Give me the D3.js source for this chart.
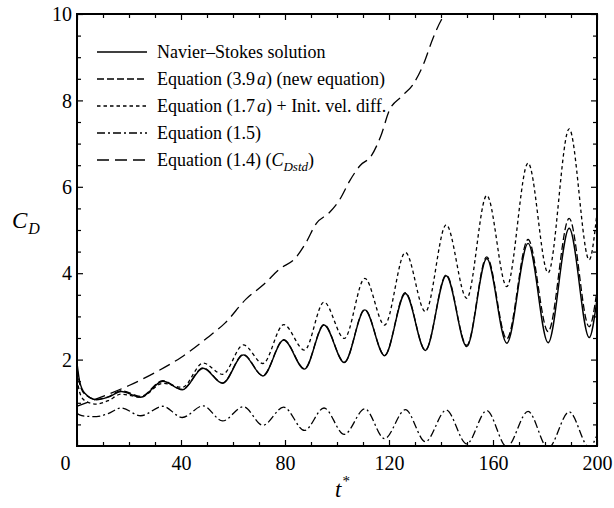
<!DOCTYPE html>
<html>
<head>
<meta charset="utf-8">
<script src="https://cdn.jsdelivr.net/npm/d3@7"></script>
<style>
html,body{margin:0;padding:0;background:#fff;}
svg{display:block;}
svg text{font-family:"Liberation Serif","Times New Roman",Times,"DejaVu Serif","Noto Serif",serif !important;fill:#000;}
</style>
</head>
<body>
<svg id="chart" width="614" height="508"></svg>
<script>
// ---- data ----
const oscT = [0,1,3,7.5,12,17,24.5,33,40.5,48.5,56,64,71.5,79.5,87.5,95,102.8,110.7,118.3,126.3,134,142,149.9,157.6,165.3,173.5,181.2,189.3,197,200];
const nsCD   = [1.92,1.5,1.22,1.07,1.13,1.26,1.13,1.50,1.30,1.80,1.45,2.11,1.62,2.45,1.78,2.80,1.93,3.15,2.09,3.53,2.21,3.94,2.30,4.34,2.38,4.69,2.39,5.04,2.51,3.4];
const eq39aCD= [1.80,1.45,1.20,1.08,1.14,1.28,1.15,1.51,1.31,1.81,1.46,2.12,1.63,2.46,1.79,2.81,1.94,3.16,2.10,3.55,2.22,3.96,2.33,4.38,2.48,4.78,2.65,5.27,2.76,3.6];
const eq17aCD= [1.55,1.25,1.05,0.97,1.05,1.20,1.13,1.45,1.36,1.92,1.66,2.34,1.91,2.81,2.22,3.33,2.49,3.88,2.80,4.48,3.11,5.12,3.42,5.80,3.69,6.55,4.01,7.34,4.31,5.4];
const eq15CD = [0.76,0.72,0.69,0.68,0.75,0.88,0.70,0.92,0.66,0.93,0.58,0.91,0.48,0.90,0.36,0.88,0.27,0.86,0.17,0.84,0.10,0.83,0.05,0.82,-0.02,0.80,-0.05,0.79,-0.03,0.25];
const eq14T  = [0,10,20,30,40,50,57,65,72,78,84,88,92,97,101,105,109,113,117,120,125,129,133,137,140,143];
const eq14CD = [0.92,1.15,1.40,1.70,2.05,2.50,2.85,3.40,3.75,4.10,4.35,4.70,5.15,5.40,5.70,6.15,6.50,6.70,7.20,7.75,8.10,8.35,8.80,9.45,9.85,10.1];
const xMajorTicks = [0,40,80,120,160,200];
const yMajorTicks = [2,4,6,8,10];
const legendLabels = ["Navier–Stokes solution","Equation (3.9a) (new equation)","Equation (1.7a) + Init. vel. diff.","Equation (1.5)","Equation (1.4) (CDstd)"];

// ---- layout ----
const L = 77, R = 597, T = 14, B = 446;
const svg = d3.select("#chart");
const x = d3.scaleLinear().domain([0,200]).range([L,R]);
const y = d3.scaleLinear().domain([0,10]).range([B,T]);

svg.append("defs").append("clipPath").attr("id","clip")
  .append("rect").attr("x",L).attr("y",T).attr("width",R-L).attr("height",B-T);

const styles = [
  {dash:null},
  {dash:"7,3"},
  {dash:"3.5,3"},
  {dash:"8,3,2,3"},
  {dash:"12,6"}
];
const series = [
  {t:oscT, v:nsCD},
  {t:oscT, v:eq39aCD},
  {t:oscT, v:eq17aCD},
  {t:oscT, v:eq15CD},
  {t:eq14T, v:eq14CD}
];
const line = d3.line().x(d=>x(d[0])).y(d=>y(d[1])).curve(d3.curveMonotoneX);
const gLines = svg.append("g").attr("clip-path","url(#clip)");
series.forEach((s,i)=>{
  gLines.append("path")
    .datum(s.t.map((t,j)=>[t,s.v[j]]))
    .attr("d",line)
    .attr("fill","none").attr("stroke","#000")
    .attr("stroke-width", i===0?1.4:1.3)
    .attr("stroke-dasharray", styles[i].dash);
});

// ---- axes ----
const xMinor = d3.range(0,201,10).filter(v=>!xMajorTicks.includes(v));
const yMinor = d3.range(0.5,10,0.5).filter(v=>!yMajorTicks.includes(v));
function addAxis(axisFn, scale, tr, vals, size, labels){
  const a = axisFn(scale).tickValues(vals).tickSizeInner(-size).tickSizeOuter(0);
  if(!labels) a.tickFormat("");
  const g = svg.append("g").attr("transform",tr).call(a).attr("font-family",null);
  g.select(".domain").remove();
  g.selectAll(".tick line").attr("stroke","#000").attr("stroke-width",1.2);
  return g;
}
// bottom
const gxb = addAxis(d3.axisBottom, x, `translate(0,${B})`, xMajorTicks, 6, true);
addAxis(d3.axisBottom, x, `translate(0,${B})`, xMinor, 4, false);
gxb.selectAll(".tick text").attr("dy",null)
  .attr("y",24).attr("font-size",20)
  .attr("x",d=>d===0?-12:0);
// top
addAxis(d3.axisTop, x, `translate(0,${T})`, xMajorTicks, 6, false);
addAxis(d3.axisTop, x, `translate(0,${T})`, xMinor, 4, false);
// left
const gyl = addAxis(d3.axisLeft, y, `translate(${L},0)`, yMajorTicks, 6, true);
addAxis(d3.axisLeft, y, `translate(${L},0)`, yMinor, 4, false);
gyl.selectAll(".tick text").attr("x",-5).attr("dy","0.33em").attr("font-size",20);
// right
addAxis(d3.axisRight, y, `translate(${R},0)`, yMajorTicks, 6, false);
addAxis(d3.axisRight, y, `translate(${R},0)`, yMinor, 4, false);

// frame
svg.append("rect").attr("x",L).attr("y",T).attr("width",R-L).attr("height",B-T)
  .attr("fill","none").attr("stroke","#000").attr("stroke-width",2);

// ---- axis titles ----
const yt = svg.append("text").attr("x",12).attr("y",228).attr("font-size",23).attr("font-style","italic");
yt.append("tspan").text("C");
yt.append("tspan").attr("font-size",16).attr("dy",6).attr("dx",1).text("D");

const xt = svg.append("text").attr("x",335).attr("y",497).attr("font-size",23).attr("font-style","italic");
xt.append("tspan").text("t");
xt.append("tspan").attr("font-size",15).attr("dy",-11).attr("dx",1).attr("font-style","normal").text("*");

// ---- legend ----
const lg = svg.append("g");
legendLabels.forEach((lab,i)=>{
  const cy = 52 + i*27;
  lg.append("line").attr("x1",97).attr("x2",147).attr("y1",cy).attr("y2",cy)
    .attr("stroke","#000").attr("stroke-width",1.3).attr("stroke-dasharray",styles[i].dash);
  const tx = lg.append("text").attr("x",157).attr("y",cy+6).attr("font-size",18);
  if(i===1 || i===2){
    const m = lab.match(/^(.*\(\d\.\d)(a)(\).*)$/);
    tx.append("tspan").text(m[1]);
    tx.append("tspan").attr("font-style","italic").attr("dx",2).text(m[2]);
    tx.append("tspan").text(m[3]);
  } else if(i===4){
    tx.append("tspan").text("Equation (1.4) (");
    tx.append("tspan").attr("font-style","italic").text("C");
    tx.append("tspan").attr("font-style","italic").attr("font-size",13).attr("dy",5).text("Dstd");
    tx.append("tspan").attr("dy",-5).text(")");
  } else {
    tx.text(lab);
  }
});
</script>
</body>
</html>
